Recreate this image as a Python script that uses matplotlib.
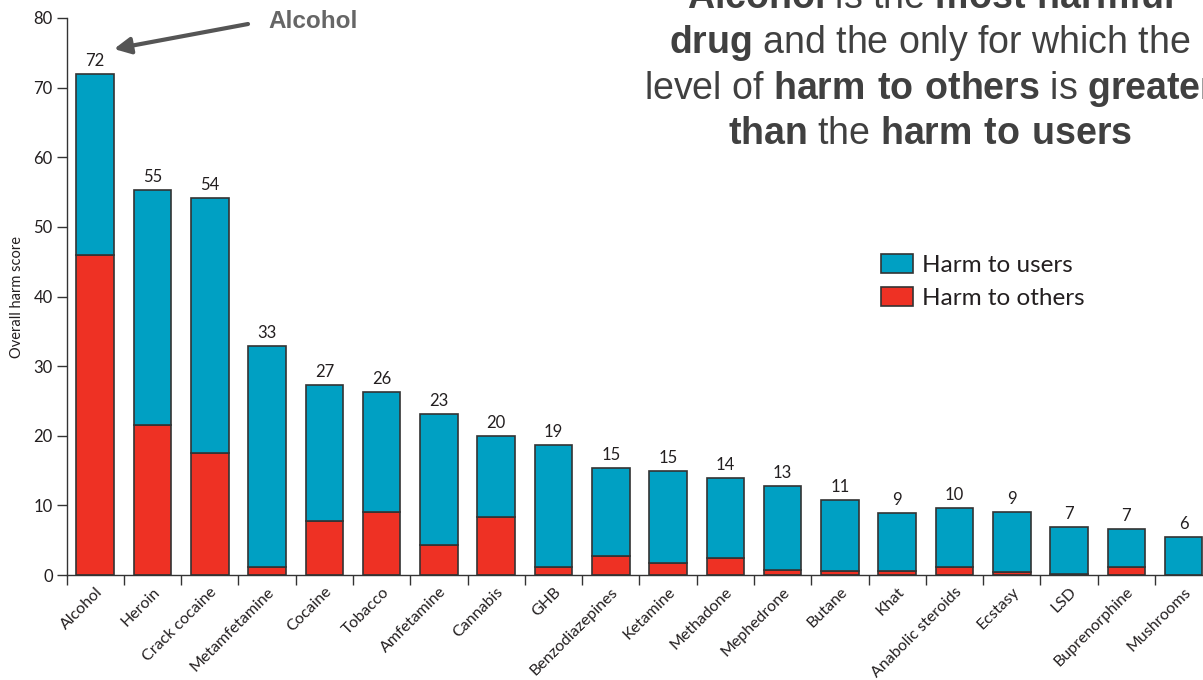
import matplotlib
matplotlib.use("Agg")
import matplotlib.pyplot as plt
import numpy as np

drugs = ["Alcohol", "Heroin", "Crack cocaine", "Metamfetamine", "Cocaine", "Tobacco",
         "Amfetamine", "Cannabis", "GHB", "Benzodiazepines", "Ketamine", "Methadone",
         "Mephedrone", "Butane", "Khat", "Anabolic steroids", "Ecstasy", "LSD",
         "Buprenorphine", "Mushrooms"]
harm_others = [46.0, 21.5, 17.5, 1.15, 7.8, 9.1, 4.3, 8.3, 1.15, 2.7, 1.7, 2.4,
               0.7, 0.6, 0.6, 1.2, 0.45, 0.1, 1.2, 0.0]
harm_users = [26.0, 33.8, 36.7, 31.75, 19.5, 17.2, 18.8, 11.7, 17.55, 12.7, 13.3, 11.6,
              12.1, 10.2, 8.3, 8.4, 8.55, 6.85, 5.45, 5.5]
score_labels = ["72", "55", "54", "33", "27", "26", "23", "20", "19", "15", "15", "14",
                "13", "11", "9", "10", "9", "7", "7", "6"]

BLUE = "#00a0c3"
RED = "#ee3124"
EDGE = "#333333"
TXT = "#231f20"

plt.rcParams['font.family'] = ['Lato', 'DejaVu Sans']
plt.rcParams['mathtext.fontset'] = 'custom'
plt.rcParams['mathtext.rm'] = 'Liberation Sans'
plt.rcParams['mathtext.bf'] = 'Liberation Sans:bold'

W, H = 1203, 680
fig = plt.figure(figsize=(W / 100, H / 100), dpi=100)
ax = fig.add_axes([66.6 / W, 105 / H, (1218 - 66.6) / W, 557 / H])

x = np.arange(len(drugs))
others = np.array(harm_others)
users = np.array(harm_users)
bw = 0.655
ax.bar(x, others, width=bw, color=RED, edgecolor=EDGE, linewidth=1.2, label="Harm to others", zorder=2)
ax.bar(x, users, width=bw, bottom=others, color=BLUE, edgecolor=EDGE, linewidth=1.2, label="Harm to users", zorder=2)

for xi, tot, lab in zip(x, others + users, score_labels):
    ax.annotate(lab, (xi, tot), xytext=(0, 3.5), textcoords="offset points",
                ha="center", va="bottom", fontsize=12, color=TXT)

ax.set_xlim(-0.5, 19.6)
ax.set_ylim(0, 80)
ax.set_yticks(range(0, 81, 10))
ax.tick_params(axis="y", labelsize=12, labelcolor=TXT, length=7, width=1, color=EDGE, pad=3)
ax.set_xticks(x)
ax.set_xticklabels(drugs, rotation=45, ha="right", rotation_mode="anchor", fontsize=11.5, color=TXT)
ax.tick_params(axis="x", which="major", length=0, pad=7)
ax.set_xticks(np.arange(-0.5, 20, 1.0), minor=True)
ax.tick_params(axis="x", which="minor", length=7, width=1, color=EDGE, direction="out")
for s in ["top", "right"]:
    ax.spines[s].set_visible(False)
ax.spines["left"].set_color(EDGE)
ax.spines["bottom"].set_color(EDGE)
ax.spines["left"].set_linewidth(1)
ax.spines["bottom"].set_linewidth(1)
ax.set_ylabel("Overall harm score", fontsize=10.5, color=TXT, labelpad=7)

h, l = ax.get_legend_handles_labels()
leg = ax.legend([h[1], h[0]], [l[1], l[0]], loc="upper left",
                bbox_to_anchor=(881 / W, 1 - 254 / H), bbox_transform=fig.transFigure,
                frameon=False, fontsize=17.5, handlelength=1.32, handleheight=0.8,
                handletextpad=0.37, labelspacing=0.47, borderpad=0, borderaxespad=0)
for t in leg.get_texts():
    t.set_color(TXT)

# annotation
fig.text(313 / W, 1 - 22 / H, "Alcohol", fontsize=17.5, fontweight="bold", color="#666666",
         family="Liberation Sans", ha="center", va="center")
ax.annotate("", xy=(114, H - 49), xycoords="figure pixels",
            xytext=(248, H - 24), textcoords="figure pixels",
            arrowprops=dict(arrowstyle="-|>,head_length=0.7,head_width=0.35", color="#555555",
                            lw=3, mutation_scale=14, shrinkA=0, shrinkB=0))

lines = [r"$\mathbf{Alcohol}$ is the $\mathbf{most\ harmful}$",
         r"$\mathbf{drug}$ and the only for which the",
         r"level of $\mathbf{harm\ to\ others}$ is $\mathbf{greater}$",
         r"$\mathbf{than}$ the $\mathbf{harm\ to\ users}$"]
baselines = [8, 53, 99, 144]
for s, b in zip(lines, baselines):
    fig.text(930 / W, 1 - b / H, s, fontsize=27, color="#404040", ha="center", va="baseline",
             family="Liberation Sans")

fig.savefig("out.png", dpi=100)
